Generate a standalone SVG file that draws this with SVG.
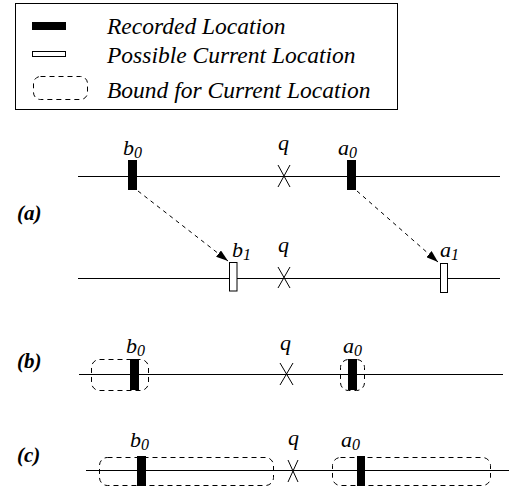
<svg xmlns="http://www.w3.org/2000/svg" width="509" height="486" viewBox="0 0 509 486">
<style>
.lg{font-family:"Liberation Serif","Times New Roman","DejaVu Serif",serif;font-style:italic;font-size:23.5px;fill:#000}
.lb{font-family:"Liberation Serif","Times New Roman","DejaVu Serif",serif;font-style:italic;font-size:22px;fill:#000}
.sub{font-size:16px}
.pl{font-family:"Liberation Serif","Times New Roman","DejaVu Serif",serif;font-style:italic;font-weight:bold;font-size:21px;fill:#000}
.ax{stroke:#000;stroke-width:1;fill:none}
.rec{fill:#000}
.pos{fill:#fff;stroke:#000;stroke-width:1}
.bnd{fill:none;stroke:#000;stroke-width:1;stroke-dasharray:5,4}
.arr{stroke:#000;stroke-width:1;fill:none;stroke-dasharray:4,4;marker-end:url(#ah)}
</style>
<defs>
<marker id="ah" viewBox="0 0 12 8" refX="12" refY="4" markerWidth="12" markerHeight="8" markerUnits="userSpaceOnUse" orient="auto">
<path d="M0,0 L12,4 L0,8 z" fill="#000"/>
</marker>
</defs>
<g id="legend">
<rect x="15.5" y="3.5" width="382" height="106" fill="none" stroke="#000" stroke-width="1"/>
<rect class="rec" x="32" y="22" width="34" height="8"/>
<text class="lg" x="107" y="34">Recorded Location</text>
<rect class="pos" x="32.5" y="51.5" width="33" height="5"/>
<text class="lg" x="107" y="63">Possible Current Location</text>
<rect class="bnd" x="33.5" y="76.5" width="54" height="23" rx="7"/>
<text class="lg" x="107" y="98">Bound for Current Location</text>
</g>
<g id="connectors">
<line class="ax" x1="78" y1="176.5" x2="500" y2="176.5"/>
<line class="ax" x1="78" y1="278.5" x2="500" y2="278.5"/>
<line class="ax" x1="79" y1="374.5" x2="503" y2="374.5"/>
<line class="ax" x1="86" y1="470.5" x2="509" y2="470.5"/>
<line class="arr" x1="138" y1="191" x2="228" y2="261"/>
<line class="arr" x1="357" y1="191" x2="438" y2="262"/>
</g>
<g id="row-a">
<text class="pl" x="17" y="220">(a)</text>
<g id="a-b0"><rect class="rec" x="128" y="160" width="9" height="30"/><text class="lb" x="123" y="155">b<tspan class="sub" dy="3">0</tspan></text></g>
<g id="a-q0"><path class="ax" d="M278,165 L290,187 M290,165 L278,187"/><text class="lb" x="278" y="150">q</text></g>
<g id="a-a0"><rect class="rec" x="347" y="160" width="9" height="30"/><text class="lb" x="338" y="155">a<tspan class="sub" dy="3">0</tspan></text></g>
<g id="a-b1"><rect class="pos" x="229.5" y="262.5" width="7.5" height="28.5"/><text class="lb" x="232" y="257">b<tspan class="sub" dy="3">1</tspan></text></g>
<g id="a-q1"><path class="ax" d="M278,267 L290,288 M290,267 L278,288"/><text class="lb" x="278" y="252">q</text></g>
<g id="a-a1"><rect class="pos" x="440.5" y="263.5" width="7" height="29"/><text class="lb" x="440" y="257">a<tspan class="sub" dy="3">1</tspan></text></g>
</g>
<g id="row-b">
<text class="pl" x="17" y="368">(b)</text>
<g id="b-b0"><rect class="bnd" x="91.5" y="359.5" width="57" height="31" rx="8"/><rect class="rec" x="130" y="359" width="9" height="31"/><text class="lb" x="126" y="353">b<tspan class="sub" dy="3">0</tspan></text></g>
<g id="b-q"><path class="ax" d="M280,363 L293,385 M293,363 L280,385"/><text class="lb" x="280" y="350">q</text></g>
<g id="b-a0"><rect class="bnd" x="340.5" y="359.5" width="24" height="31" rx="8"/><rect class="rec" x="348" y="359" width="9" height="31"/><text class="lb" x="343" y="353">a<tspan class="sub" dy="3">0</tspan></text></g>
</g>
<g id="row-c">
<text class="pl" x="17" y="462">(c)</text>
<g id="c-b0"><rect class="bnd" x="99.5" y="457.5" width="174" height="28" rx="8"/><rect class="rec" x="137" y="456" width="9" height="30"/><text class="lb" x="130" y="447">b<tspan class="sub" dy="3">0</tspan></text></g>
<g id="c-q"><path class="ax" d="M288,460 L298,482 M298,460 L288,482"/><text class="lb" x="288" y="445">q</text></g>
<g id="c-a0"><rect class="bnd" x="332.5" y="457.5" width="158" height="28" rx="8"/><rect class="rec" x="357" y="456" width="8" height="30"/><text class="lb" x="341" y="447">a<tspan class="sub" dy="3">0</tspan></text></g>
</g>
</svg>
